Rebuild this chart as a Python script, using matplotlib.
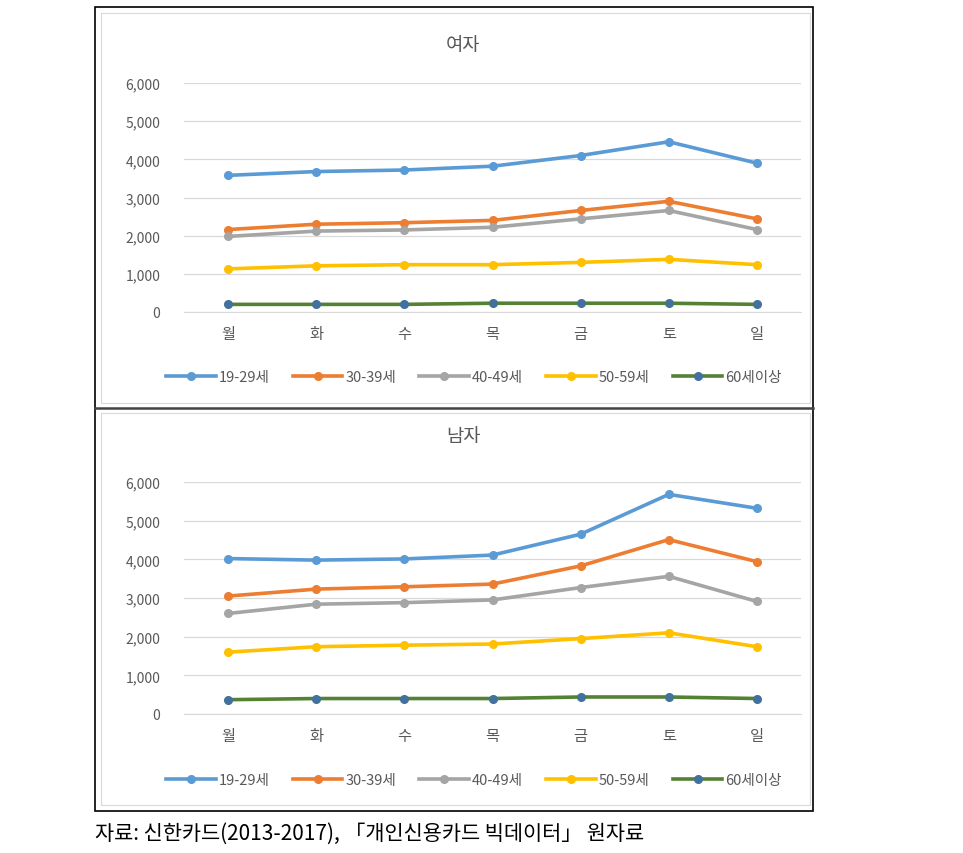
import numpy as np
import matplotlib
matplotlib.use("Agg")
import matplotlib.pyplot as plt
from matplotlib.patches import Rectangle
from matplotlib.lines import Line2D

plt.rcParams["font.family"] = ["Noto Sans CJK KR", "DejaVu Sans"]

# ============================================================
# DATA
# ============================================================
days = ["월", "화", "수", "목", "금", "토", "일"]
groups = ["19-29세", "30-39세", "40-49세", "50-59세", "60세이상"]

female_19_29 = [3580, 3680, 3720, 3820, 4100, 4460, 3900]
female_30_39 = [2160, 2300, 2340, 2400, 2660, 2900, 2440]
female_40_49 = [1980, 2120, 2150, 2220, 2440, 2660, 2160]
female_50_59 = [1130, 1210, 1240, 1240, 1300, 1380, 1240]
female_60up  = [200, 200, 200, 230, 230, 230, 200]

male_19_29 = [4020, 3980, 4010, 4110, 4650, 5680, 5320]
male_30_39 = [3050, 3230, 3290, 3360, 3830, 4510, 3940]
male_40_49 = [2600, 2840, 2880, 2950, 3270, 3560, 2910]
male_50_59 = [1600, 1740, 1780, 1810, 1950, 2100, 1740]
male_60up  = [370, 400, 400, 400, 440, 440, 400]

yticks = [0, 1000, 2000, 3000, 4000, 5000, 6000]
ytick_labels = ["0", "1,000", "2,000", "3,000", "4,000", "5,000", "6,000"]

panels = [
    ("여자", [female_19_29, female_30_39, female_40_49, female_50_59, female_60up]),
    ("남자", [male_19_29, male_30_39, male_40_49, male_50_59, male_60up]),
]

# ── Styles ───────────────────────────────────────────────────────────────────
line_colors   = ["#5B9BD5", "#ED7D31", "#A5A5A5", "#FFC000", "#548235"]
marker_colors = ["#5B9BD5", "#ED7D31", "#A5A5A5", "#FFC000", "#41719C"]
TEXT_GRAY = "#595959"

W, H = 963, 854
fig = plt.figure(figsize=(W / 100, H / 100), dpi=100)


def fx(px):
    return px / W


def fy(py):
    return 1 - py / H


# outer frame + divider
fig.add_artist(Rectangle((fx(95), fy(812)), fx(813) - fx(95), fy(8) - fy(812),
                         transform=fig.transFigure, fill=False, ec="black", lw=1.2))
fig.add_artist(Line2D([fx(95), fx(813)], [fy(409), fy(409)],
                      transform=fig.transFigure, color="#444444", lw=1.8))
# light inner chart borders
for top, bot in [(14, 404), (414, 806)]:
    fig.add_artist(Rectangle((fx(101), fy(bot)), fx(810) - fx(101), fy(top) - fy(bot),
                             transform=fig.transFigure, fill=False, ec="#d9d9d9", lw=0.8))

# plot-area geometry in pixels: (6000 gridline y, 0 baseline y, title y)
geoms = [(84, 313, 45), (483, 715, 437)]

for (title, series), (ytop, ybot, ty) in zip(panels, geoms):
    ax = fig.add_axes([fx(184), fy(ybot), fx(801) - fx(184), fy(ytop) - fy(ybot)])
    x = np.arange(len(days))
    for vals, lc, mc, name in zip(series, line_colors, marker_colors, groups):
        ax.plot(x, vals, color=lc, lw=2.6, marker="o", ms=5.5,
                mfc=mc, mec=mc, label=name, clip_on=False, zorder=3)
    ax.set_xlim(-0.5, len(days) - 0.5)
    ax.set_ylim(0, 6000)
    ax.set_yticks(yticks)
    ax.set_yticklabels(ytick_labels)
    ax.set_xticks(x)
    ax.set_xticklabels(days)
    ax.grid(axis="y", color="#d9d9d9", lw=0.9)
    ax.set_axisbelow(True)
    for s in ["top", "right", "left"]:
        ax.spines[s].set_visible(False)
    ax.spines["bottom"].set_color("#d9d9d9")
    ax.tick_params(axis="both", length=0, colors=TEXT_GRAY)
    ax.tick_params(axis="y", labelsize=10, pad=17)
    ax.tick_params(axis="x", labelsize=11, pad=9)
    fig.text(fx(463), fy(ty), title, ha="center", va="center",
             fontsize=13.5, color=TEXT_GRAY)
    ax.legend(loc="center", bbox_to_anchor=(0.47, -0.285), ncol=5, frameon=False,
              fontsize=10.5, handlelength=3.4, columnspacing=1.6, handletextpad=0.2,
              labelcolor=TEXT_GRAY)

fig.text(fx(95), fy(834), "자료: 신한카드(2013-2017), 「개인신용카드 빅데이터」 원자료",
         ha="left", va="center", fontsize=15, color="black")

fig.savefig("out.png", dpi=100, facecolor="white")
